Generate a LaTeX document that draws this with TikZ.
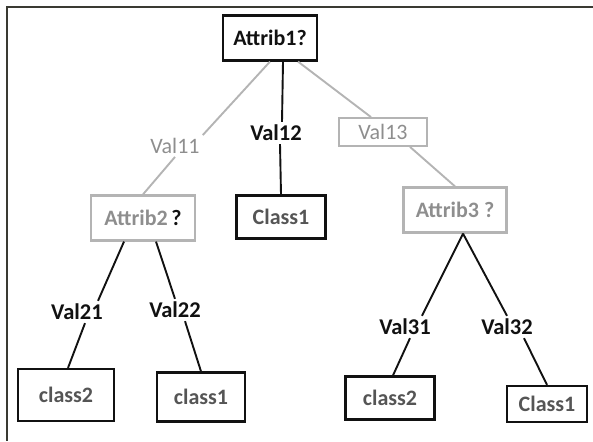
\documentclass[tikz,border=0pt]{standalone}
\usepackage{fontspec}
\setmainfont{Carlito}
\usepackage{tikz}
\definecolor{ink}{HTML}{111111}
\definecolor{leafT}{HTML}{555555}
\definecolor{greyT}{HTML}{8E8E8E}
\definecolor{greyL}{HTML}{B4B4B4}
\definecolor{frameC}{HTML}{3A3A32}
\tikzset{
  test/.style={draw=ink, line width=2.2pt, font=\fontsize{22}{26}\selectfont\bfseries,
               text=ink, inner xsep=6pt, minimum height=45pt},
  testgrey/.style={test, draw=greyL, text=greyT},
  leaf/.style={draw=ink, line width=2.2pt, font=\fontsize{22}{26}\selectfont\bfseries,
               text=leafT, inner xsep=8pt, minimum height=44pt},
  val/.style={font=\fontsize{22.5}{26}\selectfont\bfseries, text=ink, inner sep=3pt},
  valgrey/.style={font=\fontsize{22}{26}\selectfont, text=greyT, inner sep=3pt},
  edge/.style={line width=1.9pt, draw=ink},
  edgegrey/.style={line width=1.9pt, draw=greyL},
}
\begin{document}
\begin{tikzpicture}[x=1pt, y=-1pt]
  \useasboundingbox (0,0) rectangle (593,441);
  % frame, top and left only
  \draw[frameC, line width=2pt] (6,7) -- (593,7);
  \draw[frameC, line width=2pt] (7,7) -- (7,441);

  % root
  \node[test, minimum width=94pt] (A1) at (270,38) {Attrib1?};
  % first level
  \node[valgrey] (V11) at (175,146) {Val11};
  \node[val] (V12) at (276,133) {Val12};
  \node[valgrey, draw=greyL, line width=1.8pt, minimum width=88pt,
        minimum height=28pt, inner ysep=0pt] (V13) at (383,132) {Val13};
  \node[testgrey, minimum width=104pt] (A2) at (143,218)
    {Attrib2\,\textcolor{ink}{?}};
  \node[leaf, minimum width=89pt, minimum height=43pt] (C12) at (281,217) {Class1};
  \node[testgrey, minimum width=103pt] (A3) at (455,210) {Attrib3 ?};
  % second level
  \node[val] (V21) at (77,312) {Val21};
  \node[val] (V22) at (175,310) {Val22};
  \node[val] (V31) at (405,327) {Val31};
  \node[val] (V32) at (507,327) {Val32};
  \node[leaf, minimum width=96pt, minimum height=52pt] (L21) at (66,395) {class2};
  \node[leaf, minimum width=88pt, minimum height=49pt] (L22) at (201,397) {class1};
  \node[leaf, minimum width=89pt, minimum height=43pt] (L31) at (390,398) {class2};
  \node[leaf, minimum width=80pt, minimum height=36pt] (L32) at (547,404) {Class1};

  \draw[edgegrey] (A1.south) -- (V11.north east);
  \draw[edge] ([xshift=13pt]A1.south) -- ([xshift=6pt]V12.north);
  \draw[edgegrey] ([xshift=28pt]A1.south) -- ([xshift=-12pt]V13.north);
  \draw[edgegrey] (V11.south) -- (A2.north);
  \draw[edge] ([xshift=4pt]V12.south) -- (C12.north);
  \draw[edgegrey] ([xshift=27pt]V13.south) -- (A3.north);
  \draw[edge] ([xshift=-19pt]A2.south) -- ([xshift=21pt]V21.north);
  \draw[edge] ([xshift=13pt]A2.south) -- (V22.north);
  \draw[edge] ([xshift=8pt]A3.south) -- ([xshift=17pt]V31.north);
  \draw[edge] ([xshift=8pt]A3.south) -- (V32.north);
  \draw[edge] ([xshift=8pt]V21.south) -- ([xshift=2pt]L21.north);
  \draw[edge] ([xshift=10pt]V22.south) -- (L22.north);
  \draw[edge] ([xshift=5pt]V31.south) -- ([xshift=3pt]L31.north);
  \draw[edge] ([xshift=17pt]V32.south) -- (L32.north);
\end{tikzpicture}
\end{document}
